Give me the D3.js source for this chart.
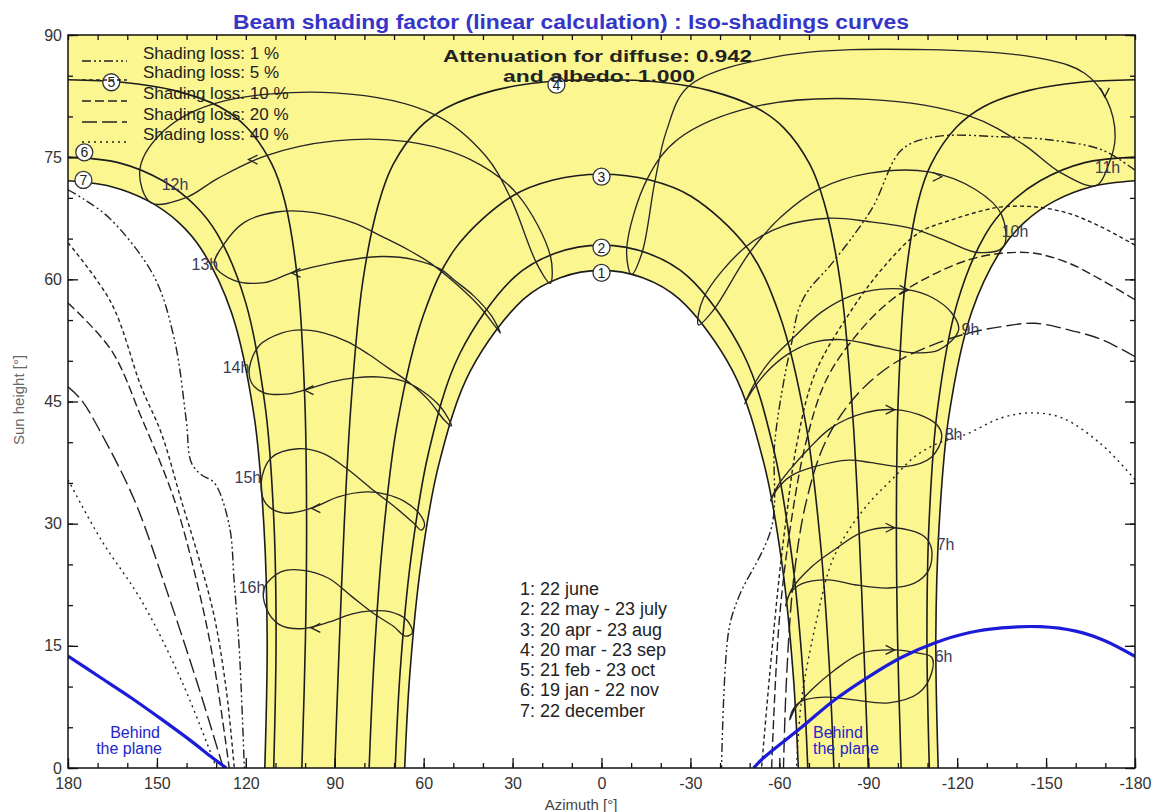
<!DOCTYPE html>
<html>
<head>
<meta charset="utf-8">
<script src="https://cdn.jsdelivr.net/npm/d3@7"></script>
<style>
  body { margin: 0; background: #fff; }
  svg text { font-family: "Liberation Sans", Arial, sans-serif; }
</style>
</head>
<body>
<svg id="chart" width="1154" height="812"></svg>
<script>
// ---- Sun paths (half arcs, [azimuth °, height °])
const path1Half = [[0,61.1],[13.9,60.2],[26.2,57.6],[44.2,48.8],[54.8,37.4],[61.0,24.8],[64.7,11.4],[66.4,0]];
const path2Half = [[0,64.2],[15.6,63.2],[29.3,60.3],[47.9,50.8],[58.3,38.8],[64.3,25.7],[67.9,12.0],[69.6,0]];
const path3Half = [[0,72.9],[16.3,72.2],[30.2,70.2],[49.3,63.8],[60.1,55.6],[69.0,42.1],[73.8,27.9],[76.7,13.5],[78.4,0]];
const path4Half = [[0,84.5],[20.1,84.2],[36.2,83.2],[52.1,81.1],[61.5,78.6],[70.3,74.1],[75.2,69.3],[80.6,59.6],[84.5,44.7],[86.8,29.9],[88.5,14.9],[90,0]];
const path5Half = [[180,84.5],[161.7,84.2],[144.3,83.2],[128.9,81.2],[119.8,78.7],[111.3,74.2],[106.8,69.5],[102.5,59.8],[100.1,45.2],[99.5,30.5],[99.9,15.7],[101.1,0]];
const path6Half = [[180,75.0],[162.7,74.3],[148.0,72.1],[137.2,69.1],[129.5,65.5],[120.1,57.2],[113.3,43.9],[110.5,30.0],[109.8,16.0],[110.6,0]];
const path7Half = [[180,72.1],[165.6,71.4],[152.8,69.6],[142.7,67.0],[135.0,63.7],[124.9,56.0],[117.2,43.2],[113.9,29.7],[112.8,15.9],[113.6,0]];

// ---- Hour lines (closed analemma loops)
const hour12 = [[152,69.4],[155.8,73.3],[149.2,77.7],[131.2,81.5],[90,82.9],[56.1,80.2],[39.2,75.2],[30.7,70.0],[21.8,61.9],[17.3,59.5],[17.2,62.8],[28.5,70.5],[44.2,74.7],[65.6,76.9],[90,77.0],[113.1,75.2],[129.4,72.4],[140.4,70.0]];
const hour13 = [[130.6,61.8],[127.6,64.2],[120.5,67.0],[109.0,68.3],[96.9,68.2],[83.4,66.9],[74.3,65.3],[65.1,63.6],[57.4,61.9],[48.9,59.4],[41.2,56.7],[35.4,54.0],[34.1,53.4],[37.1,55.5],[43.2,58.0],[50.0,60.0],[54.0,61.2],[63.1,62.4],[74.3,62.8],[91.1,62.0],[104.6,60.8],[113.7,59.6],[124.2,59.9]];
const hour14 = [[118.8,49.1],[115.4,51.9],[108.0,53.4],[101.3,53.8],[93.5,53.4],[85.4,52.3],[78.6,50.8],[71.9,49.1],[65.1,47.4],[58.4,45.2],[53.0,42.7],[50.6,42.0],[54.0,44.2],[60.1,46.2],[66.8,47.5],[74.3,48.0],[83.4,47.9],[91.1,47.4],[100.2,46.4],[106.3,45.9],[114.1,46.1],[118.1,47.3]];
const hour15 = [[114.8,35.1],[111.4,38.1],[102.3,39.2],[93.8,38.6],[86.1,36.8],[77.0,34.1],[69.2,31.9],[63.5,30.1],[60.8,29.2],[59.7,29.8],[61.4,31.2],[66.8,32.8],[72.6,33.6],[79.3,33.9],[88.8,33.3],[97.9,31.9],[107.0,31.3],[113.1,32.4]];
const hour16 = [[113.7,22.2],[108.0,24.1],[101.3,24.3],[92.1,23.3],[84.4,21.1],[77.0,19.0],[70.2,17.4],[66.2,16.2],[63.8,16.6],[65.8,18.2],[71.5,19.2],[77.6,19.3],[84.4,18.9],[92.1,17.9],[101.3,17.1],[108.7,17.6],[113.1,19.6]];
const hour11 = [[-166.8,71.5],[-154.9,73.1],[-142.2,76.6],[-124.5,80.0],[-90,82.1],[-51.6,81.2],[-25.8,77.2],[-15.4,72.3],[-8.5,63.7],[-10.1,60.6],[-13.7,63.3],[-18.0,72.0],[-21.9,78.2],[-29.4,83.7],[-60,87.4],[-110,88.2],[-150,87.0],[-163,85.3],[-170.5,82.0],[-173.3,77.5],[-171,74.0]];
const hour10 = [[-135.6,64.0],[-127,63.3],[-116.4,64.7],[-105.3,66.2],[-90,67.1],[-76.6,67.5],[-61.1,66.5],[-48.7,64.0],[-34.4,57.7],[-32.7,54.4],[-37.5,56.1],[-50,63.3],[-60.7,67.7],[-73.6,71.1],[-90,73.0],[-110.4,73.2],[-126.3,71.0],[-134.9,68.0]];
const hour9 = [[-120.5,53.8],[-113.7,51.3],[-104.6,51.0],[-94.5,51.7],[-81.0,52.6],[-70.9,52.2],[-62.4,50.7],[-55.7,48.6],[-50.6,46.2],[-48.3,44.7],[-51.3,47.0],[-56.7,49.9],[-64.1,52.6],[-74.3,56.0],[-84.4,58.0],[-94.5,58.8],[-103.6,58.7],[-111.4,57.8],[-118.1,55.9]];
const hour8 = [[-114.8,40.6],[-111.4,38.2],[-102.3,37.0],[-91.1,37.5],[-83.4,37.8],[-71.9,37.0],[-64.1,35.9],[-59.4,34.3],[-57.0,32.8],[-59.7,34.8],[-63.5,36.6],[-69.9,39.2],[-77.6,41.8],[-88.8,43.6],[-98.9,44.0],[-109.0,43.1],[-113.7,41.9]];
const hour7 = [[-111.4,26.8],[-110.4,24.3],[-105.6,22.7],[-96.9,22.1],[-85.4,22.5],[-76.6,23.1],[-67.5,22.6],[-63.5,21.4],[-62.1,19.9],[-64.1,21.9],[-70.9,24.7],[-78.6,26.8],[-87.8,28.9],[-98.9,29.5],[-109.0,28.4]];
const hour6 = [[-111.4,13.6],[-111.4,11.7],[-107.0,9.2],[-96.9,8.0],[-84.4,8.4],[-75.3,8.7],[-67.5,8.2],[-64.5,7.1],[-63.5,5.9],[-65.5,7.4],[-70.9,9.6],[-78.6,12.0],[-87.8,14.1],[-98.9,14.5],[-107.0,14.1]];

// ---- Time arrows on the hour lines
const arrowsLeft = [[119.1,74.7],[104.6,60.8],[100.2,46.4],[97.9,31.9],[97.9,17.2]];
const arrowsRight = [[-114.8,72.6],[-103.6,58.7],[-98.9,44.0],[-98.9,29.5],[-98.9,14.5]];
const arrowsDown = [[-169.8,82.4]];

// ---- Iso-shading curves, west (left) side
const isoWest1 = [[180,71.0],[174.5,69.8],[165.4,67.3],[150.9,60.3],[144.1,52.6],[140.1,42.7],[138.4,37.5],[135.0,36.0],[130.6,35.0],[125.6,29.8],[123.9,22.7],[122.2,14.5],[120.5,0]];
const isoWest5 = [[180,64.5],[165.4,57.1],[155.3,46.8],[148.5,41.1],[141.8,32.9],[135,24.7],[130.6,18.5],[126.6,9.6],[123.9,0]];
const isoWest10 = [[180,57.1],[165.4,51.3],[155.3,43.1],[144.1,32.9],[136.7,23.1],[131.0,13.3],[125.6,0]];
const isoWest20 = [[180,46.8],[175.5,45.2],[168.8,41.1],[157.6,32.9],[146.8,21.9],[136.7,10.8],[127.6,0]];
const isoWest40 = [[180,35.4],[168.8,28.0],[155.3,20.6],[141.8,10.8],[129.9,0]];
// ---- Iso-shading curves, east (right) side
const isoEast1 = [[-180,73.4],[-168.8,75.9],[-151.9,77.1],[-135,77.5],[-112.4,77.5],[-101.3,75.9],[-91.1,68.6],[-77.6,61.9],[-69.9,58.7],[-66.5,56.3],[-64.1,52.1],[-61.8,48.1],[-58.4,39.8],[-57.4,29.6],[-46.2,20.9],[-42.9,16.8],[-40.5,0]];
const isoEast5 = [[-180,64.2],[-168.8,66.4],[-157.6,68.1],[-146.1,68.9],[-135,68.9],[-129.3,68.5],[-118.1,67.3],[-107,65.7],[-94.5,61.2],[-83.4,55.7],[-71.9,48.3],[-65.8,39.6],[-62.4,30.9],[-60.0,23.6],[-56.7,11.3],[-54.0,0]];
const isoEast10 = [[-180,57.5],[-168.8,59.9],[-157.6,62.0],[-146.1,63.2],[-135,63.2],[-123.9,62.4],[-111.4,60.5],[-97.9,57.5],[-86.1,53.2],[-75.9,47.7],[-69.2,40.3],[-64.1,30.5],[-60,18.2],[-57.4,0]];
const isoEast20 = [[-180,50.5],[-168.8,52.6],[-157.6,53.8],[-146.1,54.6],[-135,54.2],[-123.9,53.4],[-111.4,51.9],[-97.9,49.5],[-86.1,45.8],[-75.9,40.3],[-69.2,32.9],[-64.8,23.1],[-62.4,10.8],[-61.4,0]];
const isoEast40 = [[-180,35.4],[-168.8,39.7],[-155.3,43.0],[-145.1,43.6],[-135,43.0],[-122.5,40.9],[-113.7,39.9],[-105.6,38.2],[-97.9,35.4],[-91.1,32.9],[-83.4,29.2],[-77.6,25.2],[-72.6,18.2],[-67.5,8.4],[-65.8,0]];

// ---- "Behind the plane" limits
const behindWest = [[180,13.75],[168.8,11.05],[158.6,8.6],[148.5,6.0],[138.4,3.3],[131.6,1.35],[126.6,0]];
const behindEast = [[-51.3,0],[-55,1.35],[-67.5,5.0],[-78.6,8.35],[-90.1,11.2],[-101.3,13.6],[-112.4,15.35],[-123.9,16.6],[-135,17.2],[-148,17.35],[-160,16.8],[-170,15.6],[-180,13.7]];

// ---- Labels
const pathMarks = [['1',0,60.8],['2',0,63.9],['3',0,72.6],['4',15.2,83.9],['5',165.4,84.2],['6',174.5,75.6],['7',174.8,72.2]];
const hourLabelsWest = [['12h',139.4,71.0],['13h',129.3,61.2],['14h',118.8,48.5],['15h',114.8,35.0],['16h',113.4,21.5]];
const hourLabelsEast = [['11h',-166.4,73.1],['10h',-135,65.2],['9h',-121.5,53.2],['8h',-115.8,40.3],['7h',-113.1,26.8],['6h',-112.4,13.0]];
const dateLegend = ['1: 22 june','2: 22 may - 23 july','3: 20 apr - 23 aug','4: 20 mar - 23 sep','5: 21 feb - 23 oct','6: 19 jan - 22 nov','7: 22 december'];
const lossLevels = ['1 %','5 %','10 %','20 %','40 %'];
const lossDash = ['9,3,2,3,2,3','4,3','9,4','15,5','2,4'];
const azTicks = [180,150,120,90,60,30,0,-30,-60,-90,-120,-150,-180];
const hTicks = [0,15,30,45,60,75,90];

// ---- Scales
const pL = 68, pR = 1135, pT = 35, pB = 768;
const x = d3.scaleLinear().domain([180, -180]).range([pL, pR]);
const y = d3.scaleLinear().domain([0, 90]).range([pB, pT]);

const svg = d3.select('#chart');
svg.append('defs').append('clipPath').attr('id', 'plotClip')
  .append('rect').attr('x', pL).attr('y', pT).attr('width', pR - pL).attr('height', pB - pT);

const mirror = pts => pts.map(([a, h]) => [-a, h]);
const arch = half => half.slice().reverse().concat(mirror(half.slice(1)));
const smooth = d3.line().x(d => x(d[0])).y(d => y(d[1])).curve(d3.curveCatmullRom.alpha(0.5));
const loop = d3.line().x(d => x(d[0])).y(d => y(d[1])).curve(d3.curveCatmullRomClosed.alpha(0.5));
const cont = pts => smooth(pts).replace(/^M/, 'L');

// ---- Background and sun area
svg.append('rect').attr('x', pL).attr('y', pT).attr('width', pR - pL).attr('height', pB - pT).attr('fill', '#fff');

const g = svg.append('g').attr('clip-path', 'url(#plotClip)');

const yellowPath = `M${x(180)},${y(90)}` + cont(path7Half) + cont(arch(path1Half)) +
  cont(mirror(path7Half).reverse()) + `L${x(-180)},${y(90)}Z`;
g.append('path').attr('d', yellowPath).attr('fill', '#fcf690');

// ---- Iso-shading curves
const isoSets = [
  [isoWest1, isoEast1], [isoWest5, isoEast5], [isoWest10, isoEast10], [isoWest20, isoEast20], [isoWest40, isoEast40]
];
isoSets.forEach((pair, i) => {
  pair.forEach(pts => {
    g.append('path').attr('d', smooth(pts)).attr('fill', 'none')
      .attr('stroke', '#222').attr('stroke-width', 1.4).attr('stroke-dasharray', lossDash[i]);
  });
});

// ---- Sun paths
const ink = '#1c1c1c';
[path1Half, path2Half, path3Half, path4Half].forEach(half => {
  g.append('path').attr('d', smooth(arch(half))).attr('fill', 'none').attr('stroke', ink).attr('stroke-width', 1.6);
});
[path5Half, path6Half, path7Half].forEach(half => {
  [half, mirror(half)].forEach(pts => {
    g.append('path').attr('d', smooth(pts)).attr('fill', 'none').attr('stroke', ink).attr('stroke-width', 1.6);
  });
});

// ---- Hour loops
[hour6, hour7, hour8, hour9, hour10, hour11, hour12, hour13, hour14, hour15, hour16].forEach(pts => {
  g.append('path').attr('d', loop(pts)).attr('fill', 'none').attr('stroke', '#262626').attr('stroke-width', 1.35);
});

// ---- Arrows
const chevron = (px, py, dx, dy) => `M${px + dx * 9 - dy * 4.5},${py + dy * 9 - dx * 4.5}L${px},${py}L${px + dx * 9 + dy * 4.5},${py + dy * 9 + dx * 4.5}`;
const arrowStyle = sel => sel.attr('fill', 'none').attr('stroke', '#222').attr('stroke-width', 1.3);
arrowsLeft.forEach(([a, h]) => g.append('path').attr('d', chevron(x(a), y(h), 1, 0)).call(arrowStyle));
arrowsRight.forEach(([a, h]) => g.append('path').attr('d', chevron(x(a), y(h), -1, 0)).call(arrowStyle));
arrowsDown.forEach(([a, h]) => g.append('path').attr('d', chevron(x(a), y(h), 0, -1)).call(arrowStyle));

// ---- Behind the plane limits
[behindWest, behindEast].forEach(pts => {
  g.append('path').attr('d', smooth(pts)).attr('fill', 'none').attr('stroke', '#1c1cd8').attr('stroke-width', 3.2);
});

// ---- Circled path numbers
const marks = g.selectAll('.pmark').data(pathMarks).join('g').attr('class', 'pmark')
  .attr('transform', d => `translate(${x(d[1])},${y(d[2])})`);
marks.append('circle').attr('r', 8.5).attr('fill', '#fff').attr('stroke', '#333').attr('stroke-width', 1.3);
marks.append('text').attr('text-anchor', 'middle').attr('dy', '0.36em').attr('font-size', 14).attr('fill', '#222').text(d => d[0]);

// ---- Hour labels
g.selectAll('.hw').data(hourLabelsWest).join('text').attr('class', 'hw')
  .attr('x', d => x(d[1])).attr('y', d => y(d[2])).attr('text-anchor', 'end')
  .attr('font-size', 16).attr('fill', '#3a3a52').text(d => d[0]);
g.selectAll('.he').data(hourLabelsEast).join('text').attr('class', 'he')
  .attr('x', d => x(d[1])).attr('y', d => y(d[2])).attr('text-anchor', 'start')
  .attr('font-size', 16).attr('fill', '#3a3a52').text(d => d[0]);

// ---- Behind the plane text
const blue = '#2525cc';
svg.append('text').attr('x', 160).attr('y', 738).attr('text-anchor', 'end').attr('font-size', 16).attr('fill', blue).text('Behind');
svg.append('text').attr('x', 162).attr('y', 754).attr('text-anchor', 'end').attr('font-size', 16).attr('fill', blue).text('the plane');
svg.append('text').attr('x', 813).attr('y', 738).attr('font-size', 16).attr('fill', blue).text('Behind');
svg.append('text').attr('x', 813).attr('y', 754).attr('font-size', 16).attr('fill', blue).text('the plane');

// ---- Frame and axes
svg.append('rect').attr('x', pL).attr('y', pT).attr('width', pR - pL).attr('height', pB - pT)
  .attr('fill', 'none').attr('stroke', '#111').attr('stroke-width', 1.5);

const styleAxis = sel => {
  sel.select('.domain').remove();
  sel.selectAll('line').attr('stroke', '#111').attr('stroke-width', 1.3);
  sel.selectAll('text').attr('font-size', 16).attr('fill', '#333').attr('font-family', '"Liberation Sans", Arial, sans-serif');
};
const minorAz = d3.range(180, -181, -10), minorH = d3.range(0, 91, 5);

svg.append('g').attr('transform', `translate(0,${pB})`)
  .call(d3.axisBottom(x).tickValues(minorAz).tickSize(-5).tickFormat('')).call(styleAxis);
svg.append('g').attr('transform', `translate(0,${pB})`)
  .call(d3.axisBottom(x).tickValues(azTicks).tickSize(-10).tickPadding(10).tickFormat(d => String(d))).call(styleAxis);
svg.append('g').attr('transform', `translate(0,${pT})`)
  .call(d3.axisTop(x).tickValues(minorAz).tickSize(-5).tickFormat('')).call(styleAxis);
svg.append('g').attr('transform', `translate(${pL},0)`)
  .call(d3.axisLeft(y).tickValues(minorH).tickSize(-5).tickFormat('')).call(styleAxis);
svg.append('g').attr('transform', `translate(${pL},0)`)
  .call(d3.axisLeft(y).tickValues(hTicks).tickSize(-10).tickPadding(6).tickFormat(d => String(d))).call(styleAxis);
svg.append('g').attr('transform', `translate(${pR},0)`)
  .call(d3.axisRight(y).tickValues(minorH).tickSize(-5).tickFormat('')).call(styleAxis);
svg.append('g').attr('transform', `translate(${pR},0)`)
  .call(d3.axisRight(y).tickValues(hTicks).tickSize(-10).tickFormat('')).call(styleAxis);

svg.append('text').attr('transform', 'translate(24,400) rotate(-90)').attr('text-anchor', 'middle')
  .attr('font-size', 15).attr('fill', '#666').text('Sun height [°]');
svg.append('text').attr('x', 581).attr('y', 810).attr('text-anchor', 'middle')
  .attr('font-size', 15).attr('fill', '#444').text('Azimuth [°]');

// ---- Title and annotations
svg.append('text').attr('x', 233).attr('y', 29).attr('font-size', 20).attr('font-weight', 'bold')
  .attr('fill', '#3535c8').attr('textLength', 676).attr('lengthAdjust', 'spacingAndGlyphs')
  .text('Beam shading factor (linear calculation) : Iso-shadings curves');
svg.append('text').attr('x', 443).attr('y', 62).attr('font-size', 16).attr('font-weight', 'bold')
  .attr('fill', '#222').attr('textLength', 309).attr('lengthAdjust', 'spacingAndGlyphs')
  .text('Attenuation for diffuse: 0.942');
svg.append('text').attr('x', 503).attr('y', 82).attr('font-size', 16).attr('font-weight', 'bold')
  .attr('fill', '#222').attr('textLength', 192).attr('lengthAdjust', 'spacingAndGlyphs')
  .text('and albedo: 1.000');

// ---- Shading loss legend
const legendBase = [59, 78, 99, 120, 140];
lossLevels.forEach((lv, i) => {
  svg.append('line').attr('x1', 82).attr('x2', 127).attr('y1', legendBase[i] + 2).attr('y2', legendBase[i] + 2)
    .attr('stroke', '#222').attr('stroke-width', 1.5).attr('stroke-dasharray', lossDash[i]);
  svg.append('text').attr('x', 143).attr('y', legendBase[i]).attr('font-size', 17).attr('fill', '#222')
    .text('Shading loss: ' + lv);
});

// ---- Date legend
svg.selectAll('.dl').data(dateLegend).join('text').attr('class', 'dl')
  .attr('x', 520).attr('y', (d, i) => 595 + i * 20.25).attr('font-size', 18).attr('fill', '#222').text(d => d);
</script>
</body>
</html>
